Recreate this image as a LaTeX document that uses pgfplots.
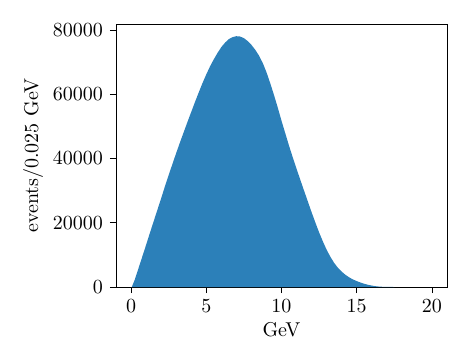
\documentclass[border=0pt]{standalone}
\usepackage{pgfplots}
\pgfplotsset{compat=1.18}
\usetikzlibrary{calc}
\definecolor{histblue}{RGB}{44,128,185}

\pgfplotstableread{
x y
0.00 0
0.05 0
0.25 2300
0.50 5900
0.75 9500
1.00 13100
1.25 16800
1.50 20400
1.75 24000
2.00 27600
2.25 31300
2.50 34800
2.75 38300
3.00 41700
3.25 45000
3.50 48200
3.75 51400
4.00 54500
4.25 57600
4.50 60600
4.75 63500
5.00 66200
5.25 68700
5.50 70900
5.75 72900
6.00 74700
6.25 76100
6.50 77200
6.75 77800
7.00 78100
7.25 78000
7.50 77500
7.75 76600
8.00 75400
8.25 73900
8.50 72100
8.75 69800
9.00 66900
9.25 63500
9.50 59800
9.75 55900
10.00 51800
10.25 47900
10.50 44000
10.75 40350
11.00 36800
11.25 33400
11.50 30000
11.75 26650
12.00 23300
12.25 20100
12.50 17000
12.75 14200
13.00 11600
13.25 9400
13.50 7500
13.75 6000
14.00 4800
14.25 3800
14.50 3000
14.75 2350
15.00 1850
15.25 1400
15.50 1000
15.75 700
16.00 450
16.25 260
16.50 130
16.75 60
17.00 25
17.50 0
}\histdata

\begin{document}
\begin{tikzpicture}
\begin{axis}[
    width=165.5pt,
    height=131.5pt,
    scale only axis,
    xmin=-1, xmax=21,
    ymin=0, ymax=81900,
    xtick={0,5,10,15,20},
    ytick={0,20000,40000,60000,80000},
    scaled y ticks=false,
    yticklabel style={/pgf/number format/.cd, 1000 sep={}},
    tick align=outside,
    xtick pos=bottom,
    ytick pos=left,
    major tick length=3pt,
    tick style={black, line width=0.4pt},
    axis line style={line width=0.4pt},
    xlabel={GeV},
    ylabel={events/0.025 GeV},
    xlabel style={yshift=2pt},
    ylabel style={yshift=-2pt},
]
\addplot[fill=histblue, draw=none] table[x=x, y=y] {\histdata} \closedcycle;
\end{axis}
\path ($(current axis.south west)+(-58pt,-29.5pt)$) rectangle ($(current axis.north east)+(4.5pt,12pt)$);
\end{tikzpicture}
\end{document}
